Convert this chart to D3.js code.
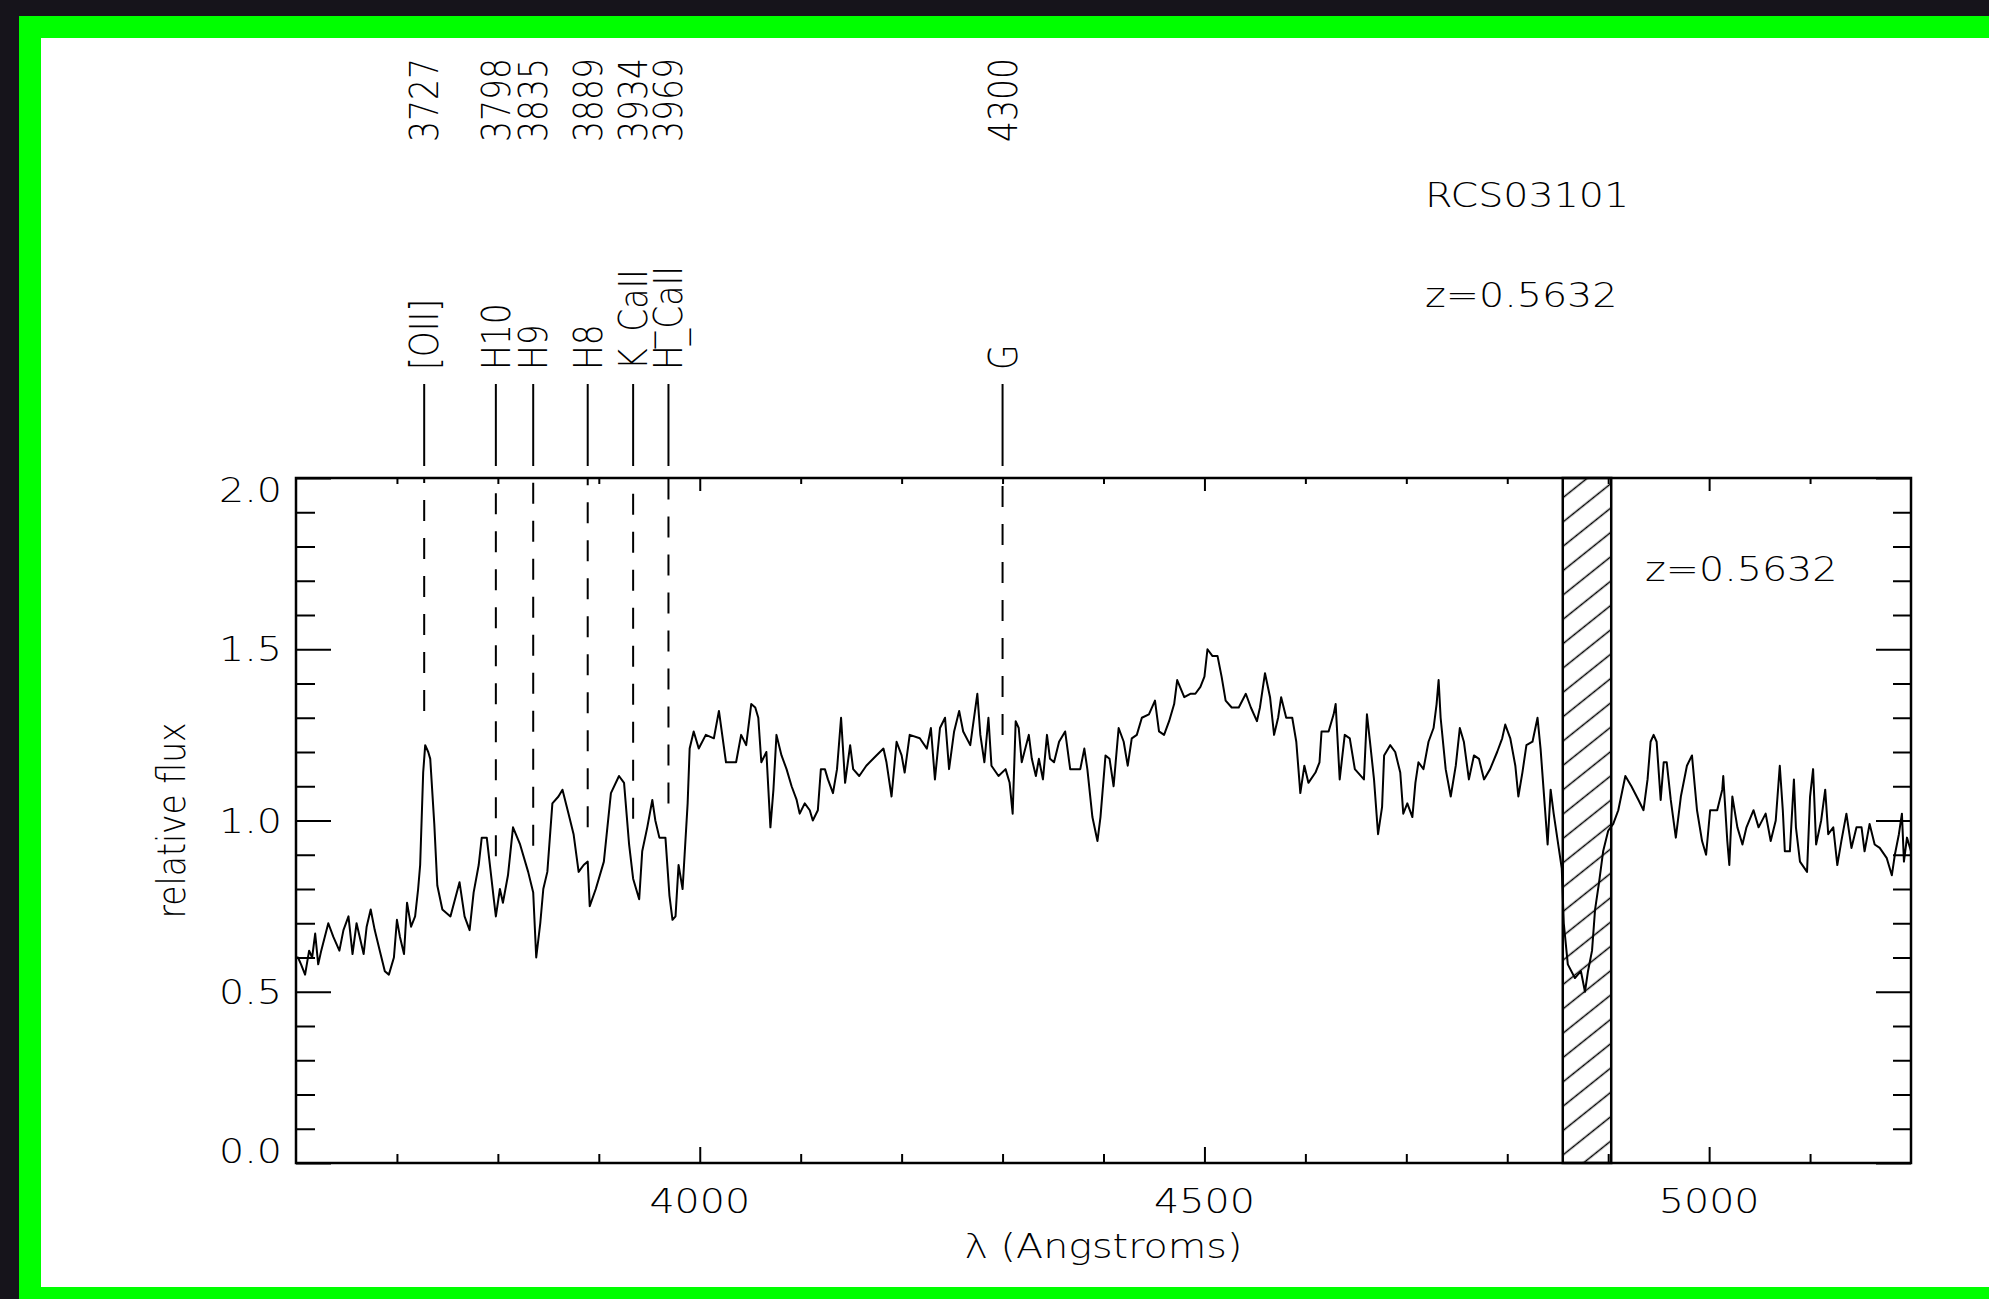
<!DOCTYPE html>
<html>
<head>
<meta charset="utf-8">
<script src="https://cdn.jsdelivr.net/npm/d3@7"></script>
<style>
  body { margin: 0; background: #16141b; overflow: hidden; }
  svg { display: block; }
  text { font-family: "DejaVu Sans", sans-serif; font-size: 33px; font-weight: 200; fill: #000; }
  .tick line { stroke: #000; stroke-width: 2; }
</style>
</head>
<body>
<svg width="1989" height="1299"></svg>
<script>
// spectrum: wavelength (Angstrom) and relative flux
var wave = [3600,3602,3605,3609,3613,3616,3619,3622,3625,3632,3637,3643,3647,3652,3656,3660,3667,3670,3674,3678,
  3683,3688,3692,3697,3700,3703,3707,3710,3714,3718,3721,3723,3726,3728,3731,3733,3737,3740,3745,3753,
  3762,3767,3772,3776,3781,3784,3789,3796,3798,3802,3805,3810,3815,3822,3830,3835,3838,3842,3845,3849,
  3854,3860,3864,3870,3875,3880,3885,3889,3891,3897,3905,3912,3920,3925,3930,3934,3940,3943,3948,3953,
  3956,3960,3966,3970,3973,3976,3979,3983,3985,3988,3990,3994,3999,4006,4014,4019,4026,4036,4041,4046,
  4051,4055,4058,4061,4066,4070,4073,4076,4081,4086,4091,4096,4099,4104,4109,4112,4117,4120,4124,4127,
  4132,4136,4140,4144,4149,4152,4158,4165,4175,4182,4185,4190,4195,4200,4203,4208,4218,4225,4229,4233,
  4238,4243,4247,4252,4257,4261,4268,4275,4278,4282,4286,4289,4296,4303,4307,4310,4313,4316,4319,4326,
  4329,4333,4336,4340,4344,4347,4351,4356,4362,4367,4377,4381,4384,4389,4394,4397,4402,4406,4410,4415,
  4420,4424,4428,4433,4438,4445,4451,4455,4460,4465,4470,4473,4480,4486,4491,4496,4500,4503,4508,4513,
  4517,4521,4527,4534,4541,4546,4552,4555,4560,4565,4569,4573,4576,4581,4587,4591,4595,4599,4603,4610,
  4614,4616,4623,4628,4630,4634,4639,4644,4649,4658,4661,4664,4668,4672,4676,4678,4684,4689,4694,4697,
  4701,4706,4709,4712,4717,4722,4727,4730,4732,4734,4739,4744,4749,4753,4757,4762,4767,4772,4777,4783,
  4790,4795,4798,4803,4808,4811,4815,4819,4825,4830,4833,4836,4840,4843,4846,4851,4854,4856,4860,4867,
  4873,4877,4880,4884,4887,4891,4895,4900,4905,4910,4917,4923,4930,4935,4939,4942,4945,4948,4952,4955,
  4958,4962,4967,4972,4978,4983,4988,4993,4997,5001,5008,5013,5014,5018,5020,5023,5028,5033,5037,5044,
  5049,5056,5061,5066,5070,5073,5075,5080,5084,5086,5090,5097,5100,5103,5106,5111,5115,5118,5123,5127,
  5131,5136,5141,5146,5151,5154,5159,5164,5169,5176,5181,5184,5188,5191,5193,5196,5200];
var flux = [0.60,0.60,0.58,0.55,0.62,0.60,0.67,0.58,0.62,0.70,0.66,0.62,0.68,0.72,0.61,0.70,0.61,0.69,0.74,0.68,
  0.62,0.56,0.55,0.60,0.71,0.66,0.61,0.76,0.69,0.72,0.80,0.87,1.14,1.22,1.20,1.18,0.99,0.81,0.74,0.72,
  0.82,0.72,0.68,0.79,0.87,0.95,0.95,0.77,0.72,0.80,0.76,0.84,0.98,0.93,0.85,0.79,0.60,0.70,0.80,0.85,
  1.05,1.07,1.09,1.02,0.96,0.85,0.87,0.88,0.75,0.80,0.88,1.08,1.13,1.11,0.93,0.83,0.77,0.91,0.98,1.06,
  1.00,0.95,0.95,0.78,0.71,0.72,0.87,0.80,0.90,1.05,1.21,1.26,1.21,1.25,1.24,1.32,1.17,1.17,1.25,1.22,
  1.34,1.33,1.30,1.17,1.20,0.98,1.09,1.25,1.19,1.15,1.10,1.06,1.02,1.05,1.03,1.00,1.03,1.15,1.15,1.12,
  1.08,1.15,1.30,1.11,1.22,1.15,1.13,1.16,1.19,1.21,1.17,1.07,1.23,1.19,1.14,1.25,1.24,1.21,1.27,1.12,
  1.27,1.30,1.15,1.26,1.32,1.26,1.22,1.37,1.25,1.17,1.30,1.16,1.13,1.15,1.11,1.02,1.29,1.27,1.17,1.25,
  1.18,1.13,1.18,1.12,1.25,1.18,1.17,1.23,1.26,1.15,1.15,1.21,1.15,1.01,0.94,1.01,1.19,1.18,1.10,1.27,
  1.23,1.16,1.24,1.25,1.30,1.31,1.35,1.26,1.25,1.29,1.34,1.41,1.36,1.37,1.37,1.39,1.42,1.50,1.48,1.48,
  1.42,1.35,1.33,1.33,1.37,1.33,1.29,1.33,1.43,1.36,1.25,1.30,1.36,1.30,1.30,1.23,1.08,1.16,1.11,1.14,
  1.17,1.26,1.26,1.31,1.34,1.12,1.25,1.24,1.15,1.12,1.31,1.23,1.12,0.96,1.04,1.19,1.22,1.20,1.14,1.02,
  1.05,1.01,1.11,1.17,1.15,1.23,1.27,1.34,1.41,1.30,1.15,1.07,1.16,1.27,1.23,1.12,1.19,1.18,1.12,1.15,
  1.20,1.24,1.28,1.24,1.16,1.07,1.14,1.22,1.23,1.30,1.21,1.09,0.93,1.09,1.02,0.92,0.86,0.70,0.58,0.54,
  0.56,0.50,0.56,0.62,0.74,0.82,0.91,0.97,0.99,1.03,1.13,1.10,1.06,1.03,1.12,1.23,1.25,1.23,1.06,1.17,
  1.17,1.06,0.95,1.07,1.16,1.19,1.03,0.94,0.90,1.03,1.03,1.09,1.13,0.94,0.87,1.07,0.98,0.93,0.98,1.03,
  0.98,1.02,0.94,1.00,1.16,1.03,0.91,0.91,1.12,0.98,0.88,0.85,1.07,1.15,0.93,1.00,1.09,0.96,0.98,0.87,
  0.94,1.02,0.92,0.98,0.98,0.91,0.99,0.93,0.92,0.89,0.84,0.90,0.96,1.02,0.88,0.95,0.91];

// identified features
var lineWaves = [3727, 3798, 3835, 3889, 3934, 3969, 4300];
var lineNames = ["[OII]", "H10", "H9", "H8", "K_CaII", "H_CaII", "G"];

// axis ticks
var xMajor = [4000, 4500, 5000];
var xMinor = [3700, 3800, 3900, 4100, 4200, 4300, 4400, 4600, 4700, 4800, 4900, 5100];
var yMajor = [0.0, 0.5, 1.0, 1.5, 2.0];
var yMinor = [0.1, 0.2, 0.3, 0.4, 0.6, 0.7, 0.8, 0.9, 1.1, 1.2, 1.3, 1.4, 1.6, 1.7, 1.8, 1.9];

var maskBand = [4855, 4903];
var objectName = "RCS03101";
var redshiftText = "z=0.5632";

var svg = d3.select("svg"),
    margin = {top: 478, right: 78, bottom: 136, left: 296},
    width = +svg.attr("width") - margin.left - margin.right,
    height = +svg.attr("height") - margin.top - margin.bottom;

// green frame round a white page
svg.append("rect").attr("x", 19).attr("y", 16).attr("width", 1989).attr("height", 1299).attr("fill", "#00ff00");
svg.append("rect").attr("x", 41).attr("y", 38).attr("width", 1989).attr("height", 1249).attr("fill", "#fff");

var x = d3.scaleLinear().domain([3600, 5200]).range([0, width]),
    y = d3.scaleLinear().domain([0, 2]).range([height, 0]);

var g = svg.append("g")
    .attr("transform", "translate(" + margin.left + "," + margin.top + ")");

// text is stretched sideways like the original
function label(px, py, str, anchor, rotated) {
    return g.append("text")
        .attr("transform", "translate(" + px + "," + py + ") scale(1.2,1)" + (rotated ? " rotate(-90)" : ""))
        .attr("text-anchor", anchor || "start")
        .text(str);
}

// hatched band
var defs = svg.append("defs");
defs.append("pattern")
    .attr("id", "hatch")
    .attr("patternUnits", "userSpaceOnUse")
    .attr("width", 19).attr("height", 19)
    .attr("patternTransform", "rotate(-38.7)")
  .append("line")
    .attr("x1", 0).attr("y1", 9.5).attr("x2", 19).attr("y2", 9.5)
    .attr("stroke", "#000").attr("stroke-width", 1.5);

g.append("rect")
    .attr("x", x(maskBand[0]))
    .attr("y", 0)
    .attr("width", x(maskBand[1]) - x(maskBand[0]))
    .attr("height", height)
    .attr("fill", "url(#hatch)")
    .attr("stroke", "#000")
    .attr("stroke-width", 2.5);

// spectrum
var data = d3.zip(wave, flux);
var line = d3.line()
    .x(function(d) { return x(d[0]); })
    .y(function(d) { return y(d[1]); });

g.append("path")
    .datum(data)
    .attr("fill", "none")
    .attr("stroke", "#000")
    .attr("stroke-width", 2)
    .attr("stroke-linejoin", "round")
    .attr("d", line);

// frame
g.append("rect")
    .attr("width", width).attr("height", height)
    .attr("fill", "none").attr("stroke", "#000").attr("stroke-width", 2.5);

function ticks(axis, tf) {
    var a = g.append("g").attr("transform", tf || null).call(axis);
    a.select(".domain").remove();
    return a;
}
ticks(d3.axisBottom(x).tickValues(xMinor).tickSize(-9).tickSizeOuter(0).tickFormat(""), "translate(0," + height + ")");
ticks(d3.axisBottom(x).tickValues(xMajor).tickSize(-16).tickSizeOuter(0).tickFormat(""), "translate(0," + height + ")");
ticks(d3.axisTop(x).tickValues(xMinor).tickSize(-6).tickSizeOuter(0).tickFormat(""));
ticks(d3.axisTop(x).tickValues(xMajor).tickSize(-13).tickSizeOuter(0).tickFormat(""));
ticks(d3.axisLeft(y).tickValues(yMinor).tickSize(-19).tickSizeOuter(0).tickFormat(""));
ticks(d3.axisLeft(y).tickValues(yMajor).tickSize(-35).tickSizeOuter(0).tickFormat(""));
ticks(d3.axisRight(y).tickValues(yMinor).tickSize(-18).tickSizeOuter(0).tickFormat(""), "translate(" + width + ",0)");
ticks(d3.axisRight(y).tickValues(yMajor).tickSize(-35).tickSizeOuter(0).tickFormat(""), "translate(" + width + ",0)");

// tick labels
xMajor.forEach(function(v) { label(x(v), height + 50, String(v), "middle"); });
yMajor.forEach(function(v) {
    var c = Math.min(Math.max(y(v), 12), height - 12);
    label(-14, c + 12, v.toFixed(1), "end");
});

label(width / 2, height + 95, "\u03bb (Angstroms)", "middle");
label(-111, height / 2, "relative flux", "middle", true);

// feature markers
function fluxNear(l) {
    var pts = [l - 3, l, l + 3];
    data.forEach(function(d) { if (d[0] > l - 3 && d[0] < l + 3) pts.push(d[0]); });
    return d3.max(pts, function(w) {
        var i = d3.bisector(function(d) { return d[0]; }).right(data, w);
        var a = data[Math.max(i - 1, 0)], b = data[Math.min(i, data.length - 1)];
        var t = b[0] === a[0] ? 0 : (w - a[0]) / (b[0] - a[0]);
        return a[1] + t * (b[1] - a[1]);
    });
}

lineWaves.forEach(function(l, i) {
    var lx = x(l);
    g.append("line")
        .attr("x1", lx).attr("x2", lx).attr("y1", -94).attr("y2", -12)
        .attr("stroke", "#000").attr("stroke-width", 2);
    // dashes run upward from the spectrum to the top axis
    g.append("line")
        .attr("x1", lx).attr("x2", lx).attr("y1", y(fluxNear(l) + 0.1)).attr("y2", 0)
        .attr("stroke", "#000").attr("stroke-width", 2)
        .attr("stroke-dasharray", "21,17");
    label(lx + 14, -108, lineNames[i], "start", true);
    label(lx + 14, -336, String(l), "start", true);
});

label(1129, -271, objectName, "start");
label(1129, -171, redshiftText, "start");
label(1349, 103, redshiftText, "start");
</script>
</body>
</html>
